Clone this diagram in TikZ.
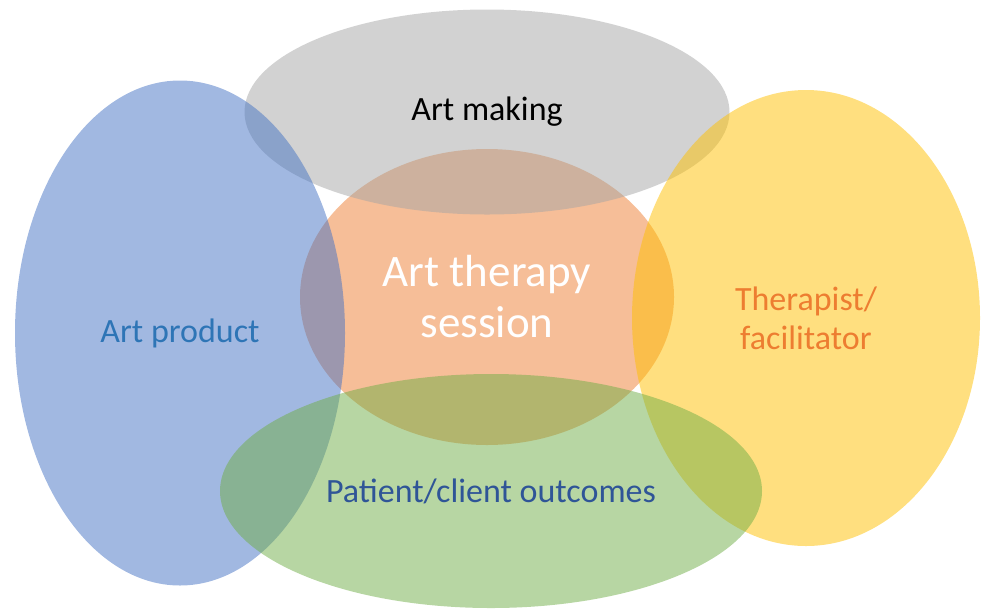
\documentclass[tikz,border=0pt]{standalone}
\usepackage{fontspec}
\setmainfont{Carlito}
\usepackage{xcolor}
\usepackage{tikz}
\usetikzlibrary{shapes.geometric}
\definecolor{atblue}{HTML}{4472C4}
\definecolor{atgrey}{HTML}{A5A5A5}
\definecolor{atorange}{HTML}{ED7D31}
\definecolor{atyellow}{HTML}{FFC000}
\definecolor{atgreen}{HTML}{70AD47}
\definecolor{atbluetext}{HTML}{2E75B6}
\definecolor{atnavytext}{HTML}{2F5597}

\begin{document}
\begin{tikzpicture}[
  x=1pt, y=-1pt,
  blob/.style={ellipse,inner sep=0pt,fill opacity=0.5,text opacity=1,
               align=center,font=\fontsize{34}{39}\selectfont},
  bigtext/.style={font=\fontsize{45}{51}\selectfont}]

  \useasboundingbox (0,0) rectangle (981,611);

  % drawing order decides the tint of each overlap
  \node[blob,bigtext,fill=atorange,text=white,minimum width=374pt,minimum height=296pt]
    (session) at (487,297) {Art therapy\\session};
  \node[blob,fill=atgrey,text=black,minimum width=485pt,minimum height=205pt]
    (making) at (487,112) {Art making};
  \node[blob,fill=atblue,text=atbluetext,minimum width=330pt,minimum height=505pt]
    (product) at (180,333) {Art product};
  \node[blob,fill=atyellow,text=atorange,minimum width=348pt,minimum height=456pt]
    (therapist) at (806,318) {Therapist/\\facilitator};
  \node[blob,fill=atgreen,text=atnavytext,minimum width=542pt,minimum height=234pt]
    (outcomes) at (491,491) {Patient/client outcomes};
\end{tikzpicture}
\end{document}
